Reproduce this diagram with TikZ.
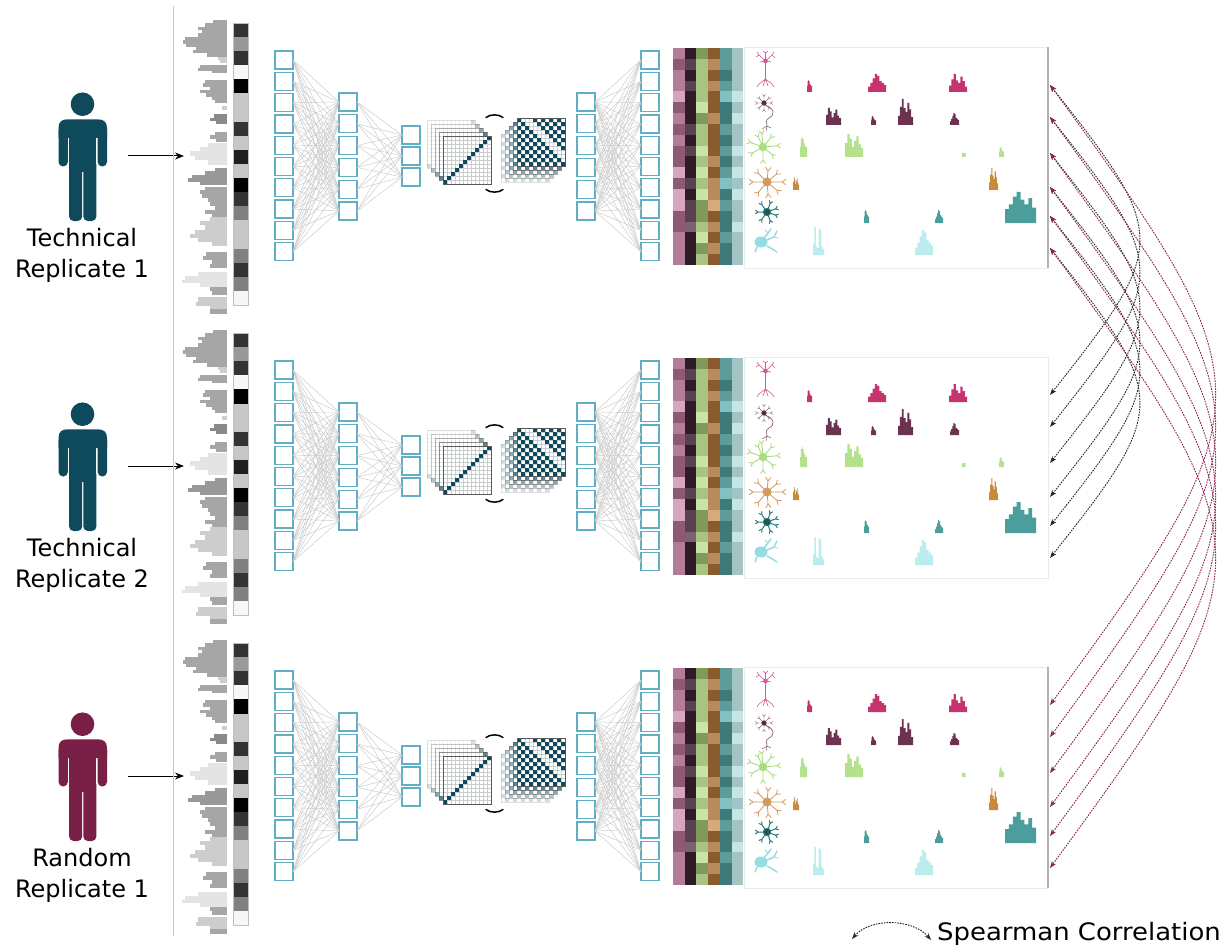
\documentclass[tikz,border=0pt]{standalone}
\usepackage{fontspec}
\setmainfont{DejaVu Sans}
\usetikzlibrary{arrows.meta}

% people
\definecolor{personA}{HTML}{0E4A5C}
\definecolor{personB}{HTML}{7A1F45}
% network
\definecolor{boxblue}{HTML}{62AFC4}
\definecolor{netgray}{HTML}{CACACA}
\definecolor{matc}{HTML}{0F4A5C}
\definecolor{gridc}{HTML}{C8CCCC}
% signal track greys
\definecolor{sg1}{HTML}{A6A6A6}
\definecolor{sg2}{HTML}{999999}
\definecolor{sl}{HTML}{CDCDCD}
\definecolor{sv}{HTML}{E4E4E4}
\definecolor{sd}{HTML}{8A8A8A}
% cell-type colour columns
\definecolor{col1-0}{HTML}{D6A6C0}\definecolor{col1-1}{HTML}{B57C9A}\definecolor{col1-2}{HTML}{8E5974}
\definecolor{col2-0}{HTML}{7B6172}\definecolor{col2-1}{HTML}{5A4151}\definecolor{col2-2}{HTML}{2F1A27}
\definecolor{col3-0}{HTML}{CAE3A6}\definecolor{col3-1}{HTML}{A7C483}\definecolor{col3-2}{HTML}{7E9B5C}
\definecolor{col4-0}{HTML}{D6AB79}\definecolor{col4-1}{HTML}{B88B5D}\definecolor{col4-2}{HTML}{8A5B2C}
\definecolor{col5-0}{HTML}{7FC2C1}\definecolor{col5-1}{HTML}{5E9C9B}\definecolor{col5-2}{HTML}{3D7A79}
\definecolor{col6-0}{HTML}{C6E6E6}\definecolor{col6-1}{HTML}{A3C4C3}\definecolor{col6-2}{HTML}{7F9F9D}
% peaks and cell icons
\definecolor{pkA}{HTML}{C7336F}
\definecolor{pkB}{HTML}{6C3350}
\definecolor{pkC}{HTML}{B4E18C}
\definecolor{pkD}{HTML}{C98B3B}
\definecolor{pkE}{HTML}{4B9E9B}
\definecolor{pkF}{HTML}{BCEDEE}
\definecolor{nA}{HTML}{D7589A}
\definecolor{nB}{HTML}{86636F}
\definecolor{nBd}{HTML}{4F2F3F}
\definecolor{nC}{HTML}{A9DD80}
\definecolor{nD}{HTML}{D39A5E}
\definecolor{nE}{HTML}{2C7A79}
\definecolor{nF}{HTML}{93DDE3}
\definecolor{mar}{HTML}{8B2252}

% step profiles of the peaks
\def\pfA{0.45,0.6,0.85,1,0.75,0.6,0.8,0.5}
\def\pfB{0.35,0.7,1,0.65,0.5,0.85,0.6,0.3}
\def\pfC{0.6,1,0.8,0.45,0.7,0.9,0.55,0.4}
\def\pfD{0.3,0.5,0.75,1,0.9,0.6,0.5,0.4}
\def\pfE{0.5,0.9,1,0.9,0.7,0.6,0.5,0.5}
\def\pfF{0.4,1,0.3,0.25,0.95,0.9,0.3,0.2}
\def\pfG{1,1,1,1,1,1,1,1}

% \pk{colour}{x0}{width}{baseline}{height}{profile}
\newcommand\pk[6]{%
  \fill[#1] ({#2},{#4}) \foreach \f [count=\q from 0] in #6 {
    -- ({#2+\q*#3/8},{#4-\f*#5}) -- ({#2+(\q+1)*#3/8},{#4-\f*#5}) } -- ({#2+#3},{#4}) -- cycle;}

% branching cell: centre, soma radius, colour, angle/length list, fork length, line width
\newcommand\cellstar[6]{%
  \fill[#3] #1 circle[radius=#2];
  \foreach \a/\l in {#4} {
    \draw[#3, line width=#6, line cap=round] #1 -- ++(\a:\l) coordinate (tp) -- ++(\a+35:#5) (tp) -- ++(\a-35:#5);}}

\newcommand\person[1]{%
  \fill[#1] (82.5,104.2) circle[radius=11.8];
  \fill[#1] (58.5,138) -- (58.5,128) .. controls (58.5,121.5) and (62,119.3) .. (68,119.3)
     -- (97,119.3) .. controls (103.5,119.3) and (107,121.5) .. (107,128) -- (107,138) -- cycle;
  \fill[#1, rounded corners=4.6] (58.5,126) rectangle (67.9,166.5);
  \fill[#1, rounded corners=4.6] (97.6,126) rectangle (107,166.5);
  \fill[#1] (69.1,125) rectangle (96.4,172);
  \fill[#1, rounded corners=4.5] (69.1,160) rectangle (82.2,221);
  \fill[#1, rounded corners=4.5] (83.3,160) rectangle (96.4,221);}

\newcommand\neurons{%
  % pyramidal neuron
  \begin{scope}[nA, line width=0.6pt, line cap=round]
    \fill (765.5,61) circle[radius=2.3];
    \draw (765.5,61) -- (765.5,79);
    \draw (765.5,61) -- (759,55) -- (757,52) (759,55) -- (756,57);
    \draw (765.5,61) -- (772,55) -- (774,52) (772,55) -- (775,58);
    \draw (765.5,61) -- (765.5,53) -- (763,51) (765.5,53) -- (768,51);
    \draw (765.5,61) -- (760,62) (765.5,61) -- (771,62);
    \draw (765.5,79) -- (759,84) -- (757,87) (765.5,79) -- (772,84) -- (774,87)
          (765.5,79) -- (763,86) (765.5,79) -- (768,86);
  \end{scope}
  % neuron with long axon
  \cellstar{(764,103)}{2.6}{nB}{0/6.5,45/6.5,90/6.5,135/6.5,180/6.5,225/6.5,270/6.5,315/6.5}{2.5}{0.45pt}
  \fill[nBd] (764,103) circle[radius=2.4];
  \draw[nB, line width=0.7pt] (765,105) .. controls (775,109) and (775,115) .. (769,118)
       .. controls (765,120) and (767,123) .. (767,126);
  \draw[nB, line width=0.5pt] (767,126) -- (762,129) (767,126) -- (771,128) (767,126) -- (766,131);
  % astrocyte-like cells
  \cellstar{(763,147)}{4.2}{nC}{90/13,40/12,-5/14,-50/12,-95/13,150/12,200/13,245/11}{4}{0.9pt}
  \cellstar{(767,182)}{4.5}{nD}{85/12,130/13,180/14,225/12,275/11,0/15,40/13,320/12}{4.5}{0.8pt}
  \cellstar{(767,212)}{4.2}{nE}{70/9,125/9,180/9,235/9,290/9,340/9,20/9}{3}{1pt}
  \fill[nE!70!black] (767,212) circle[radius=3];
  % microglia-like cell
  \begin{scope}[nF, line width=1.5pt, line cap=round, line join=round]
    \fill (761,242) ellipse[x radius=6.5, y radius=5.5];
    \draw (764,238) -- (768,233) -- (771,229);
    \draw (767,240) -- (774,237) -- (777,231);
    \draw (767,246) -- (774,250) -- (777,252);
    \draw (757,247) -- (755,252);
    \draw[line width=0.8pt] (768,233) -- (765,230) (774,237) -- (778,238);
  \end{scope}}

\tikzset{
  netbox/.style={draw=boxblue, line width=1.3pt, fill=white, minimum size=18pt,
                 inner sep=0pt, outer sep=0pt},
  netline/.style={draw=netgray, line width=0.45pt},
  lbl/.style={font=\fontsize{24}{30}\selectfont, anchor=base, inner sep=0pt},
  corr/.style={dash pattern=on 1.6pt off 1.1pt, line width=0.9pt,
               {Stealth[length=7pt,width=5pt]}-{Stealth[length=7pt,width=5pt]}},
}

\begin{document}
\begin{tikzpicture}[x=1pt,y=-1pt]
\useasboundingbox (0,0) rectangle (1228,952);
\fill[white] (0,0) rectangle (1228,952);

\foreach \p/\off/\pc/\la/\lb in {1/0/personA/Technical/Replicate 1,
                                   2/310/personA/Technical/Replicate 2,
                                   3/620/personB/Random/Replicate 1}{
\begin{scope}[shift={(0,\off)}]
  % person and label
  \person{\pc}
  \node[lbl] (la\p) at (82,246) {\la};
  \node[lbl] (lb\p) at (82,277) {\lb};
  \coordinate (pa\p) at (128,156);
  \coordinate (pb\p) at (184,156);
  \draw[line width=1pt, -{Stealth[length=9pt,width=7pt]}] (pa\p) -- (pb\p);
  \draw[black!22, line width=0.8pt] (173,6) -- (173,316);

  % genome signal track
  \foreach \ya/\yb/\xl/\cc in {20/23/213/sg1, 23/27/205/sg1, 27/30/198/sg1, 30/33/202/sg1,
      33/37/198/sg1, 37/40/185/sg1, 40/44/183/sg1, 44/47/186/sg1, 47/50/196/sg1, 50/53/193/sg1,
      53/57/207/sg1, 57/60/218/sl, 60/63/220/sl, 65/68/200/sg1, 68/71/198/sg1, 71/73/212/sg1,
      80/83/205/sg1, 83/87/203/sg1, 87/90/210/sg1, 90/93/200/sg1, 93/97/206/sg1, 97/100/212/sg1,
      100/103/215/sg1, 106/110/222/sl, 114/118/214/sd, 118/121/210/sd, 121/124/216/sd,
      132/135/215/sg1, 135/139/210/sg1, 139/142/216/sg1, 143/147/208/sv, 147/151/200/sv,
      151/156/190/sv, 156/160/195/sv, 160/165/208/sv, 168/171/215/sg2, 171/175/205/sg2,
      175/178/192/sg2, 178/182/188/sg2, 182/185/200/sg2, 187/190/205/sg1, 190/194/200/sg1,
      194/198/202/sg1, 198/202/208/sg1, 202/206/210/sg1, 206/210/215/sg1, 210/214/205/sg1,
      214/217/212/sg1, 217/221/210/sl, 221/225/200/sl, 225/230/205/sl, 230/234/195/sl,
      234/238/190/sl, 238/242/198/sl, 242/246/212/sl, 252/256/206/sg1, 256/260/203/sg1,
      260/264/212/sg1, 264/268/210/sg1, 272/276/198/sv, 276/280/185/sv, 280/283/182/sv,
      283/287/200/sv, 287/291/210/sg1, 291/295/212/sg1, 297/302/198/sl, 302/306/196/sl,
      306/309/210/sl, 309/314/210/sg1}
    \fill[\cc] (\xl,\ya) rectangle (227,\yb);

  % binned signal
  \foreach \g [count=\n from 0] in {80,40,80,3,100,22,22,80,22,88,22,100,80,50,22,22,50,80,50,3}
    \fill[black!\g] (233,{23+14.1*\n}) rectangle (248,{23+14.1*(\n+1)});
  \draw[black!25, line width=0.5pt] (233,23) rectangle (248,305);

  % encoder and decoder layers
  \foreach \k in {0,...,9} {
    \node[netbox] (ea\p-\k) at (284,{60+21.3*\k}) {};
    \node[netbox] (db\p-\k) at (650,{60+21.3*\k}) {};}
  \foreach \k in {0,...,5} {
    \node[netbox] (eb\p-\k) at (348,{102+21.8*\k}) {};
    \node[netbox] (da\p-\k) at (586,{102+21.8*\k}) {};}
  \foreach \k in {0,...,2}
    \node[netbox] (ec\p-\k) at (411,{135+21*\k}) {};
  \foreach \i in {0,...,9} \foreach \j in {0,...,5} {
    \draw[netline] (ea\p-\i.east) -- (eb\p-\j.west);
    \draw[netline] (da\p-\j.east) -- (db\p-\i.west);}
  \foreach \i in {0,...,5} \foreach \j in {0,...,2}
    \draw[netline] (eb\p-\i.east) -- (ec\p-\j.west);

  % stack of contact maps with a diagonal
  \foreach \s/\op in {0/0.18,1/0.32,2/0.48,3/0.68,4/1} {
    \begin{scope}[shift={({427+4*\s},{120+4*\s})}]
      \fill[white] (0,0) rectangle (48,48);
      \begin{scope}[opacity=\op]
        \foreach \g in {4,8,...,44} {
          \draw[gridc, line width=0.35pt] (\g,0) -- (\g,48);
          \draw[gridc, line width=0.35pt] (0,\g) -- (48,\g);}
        \foreach \i in {0,...,11} \fill[matc] ({4*\i},{44-4*\i}) rectangle ++(4,4);
        \draw[black!65, line width=0.6pt] (0,0) rectangle (48,48);
      \end{scope}
    \end{scope}}
  % stack of checkerboard maps
  \foreach \s/\op in {0/0.18,1/0.32,2/0.48,3/0.68,4/1} {
    \begin{scope}[shift={({501+4*\s},{134-4*\s})}]
      \fill[white] (0,0) rectangle (48,48);
      \begin{scope}[opacity=\op]
        \foreach \g in {4,8,...,44} {
          \draw[gridc, line width=0.35pt] (\g,0) -- (\g,48);
          \draw[gridc, line width=0.35pt] (0,\g) -- (48,\g);}
        \foreach \r in {0,...,11} \foreach \cc in {0,...,5} {
          \pgfmathtruncatemacro\cx{2*\cc+mod(\r,2)}
          \ifnum\numexpr\cx-\r\relax=2 \else
            \fill[matc] ({4*\cx},{4*\r}) rectangle ++(4,4); \fi}
        \draw[black!65, line width=0.6pt] (0,0) rectangle (48,48);
      \end{scope}
    \end{scope}}
  % exchange marks between the stacks
  \draw[line width=1.5pt, line cap=round] (486,117.5) .. controls (490,114) and (499,114) .. (503,117.5);
  \draw[line width=1.5pt, line cap=round] (486,189.5) .. controls (490,193) and (499,193) .. (503,189.5);

  % cell-type columns
  \foreach \c/\seq in {1/{1,2,1,1,0,2,1,2,1,2,2,0,2,0,0,2,2,1,1,1},
                       2/{2,1,2,1,2,2,2,1,2,1,2,2,1,2,1,1,0,2,2,2},
                       3/{2,1,1,1,1,0,2,1,1,0,1,0,1,0,2,2,1,0,2,1},
                       4/{2,1,2,1,2,2,1,2,2,2,1,2,1,1,0,2,1,2,1,2},
                       5/{1,1,2,1,0,2,2,1,2,1,2,1,0,2,1,2,2,1,2,2},
                       6/{1,1,1,1,0,1,0,1,1,0,1,0,1,0,1,1,0,1,1,1}}
    \foreach \v [count=\r from 0] in \seq
      \fill[col\c-\v] ({673+11.7*(\c-1)},{48+10.85*\r}) rectangle ++(11.7,10.85);

  % per-cell-type signal panel
  \draw[black!8, fill=white, line width=0.6pt] (744,47) rectangle (1048,268);
  \ifnum\p=2 \else \draw[black!30, line width=1.8pt] (1048,47) -- (1048,268); \fi
  \neurons
  \pk{pkA}{807}{5}{92}{12}\pfE   \pk{pkA}{868}{18}{92}{18}\pfD  \pk{pkA}{949}{18}{92}{18}\pfB
  \pk{pkB}{826}{15}{125}{17}\pfC \pk{pkB}{871}{5}{125}{9}\pfE   \pk{pkB}{898}{15}{125}{26}\pfB
  \pk{pkB}{950}{9}{125}{12}\pfD
  \pk{pkC}{800}{7}{157}{20}\pfE  \pk{pkC}{845}{18}{157}{23}\pfC \pk{pkC}{962}{3.5}{157}{4}\pfG
  \pk{pkC}{999}{5}{157}{10}\pfE
  \pk{pkD}{793}{6}{190}{13}\pfC  \pk{pkD}{989}{9}{190}{22}\pfB
  \pk{pkE}{864}{5}{223}{13}\pfE  \pk{pkE}{935}{8}{223}{13}\pfD  \pk{pkE}{1005}{31}{223}{31}\pfA
  \pk{pkF}{813}{11}{255}{28}\pfF \pk{pkF}{915}{18}{255}{25}\pfD

  % row anchors for the correlation arrows
  \foreach \i/\ry in {1/85,2/117,3/153,4/187,5/216,6/248}
    \coordinate (c\p-\i) at (1050,\ry);
\end{scope}}

% correlations between replicates
\foreach \i in {1,...,6}
  \draw[corr, black!85] (c1-\i) .. controls +(119,150) and +(119,-150) .. (c2-\i);
\foreach \i in {1,...,6}
  \draw[corr, mar] (c1-\i) .. controls +(220,300) and +(220,-300) .. (c3-\i);

% legend
\coordinate (lg1) at (852,939);
\coordinate (lg2) at (931,940);
\draw[corr, black!85] (lg1) .. controls (870,918) and (912,918) .. (lg2);
\node[lbl, anchor=base west] (lgt) at (937,940)
  {\addfontfeatures{FakeStretch=1.08}Spearman Correlation};
\end{tikzpicture}
\end{document}
